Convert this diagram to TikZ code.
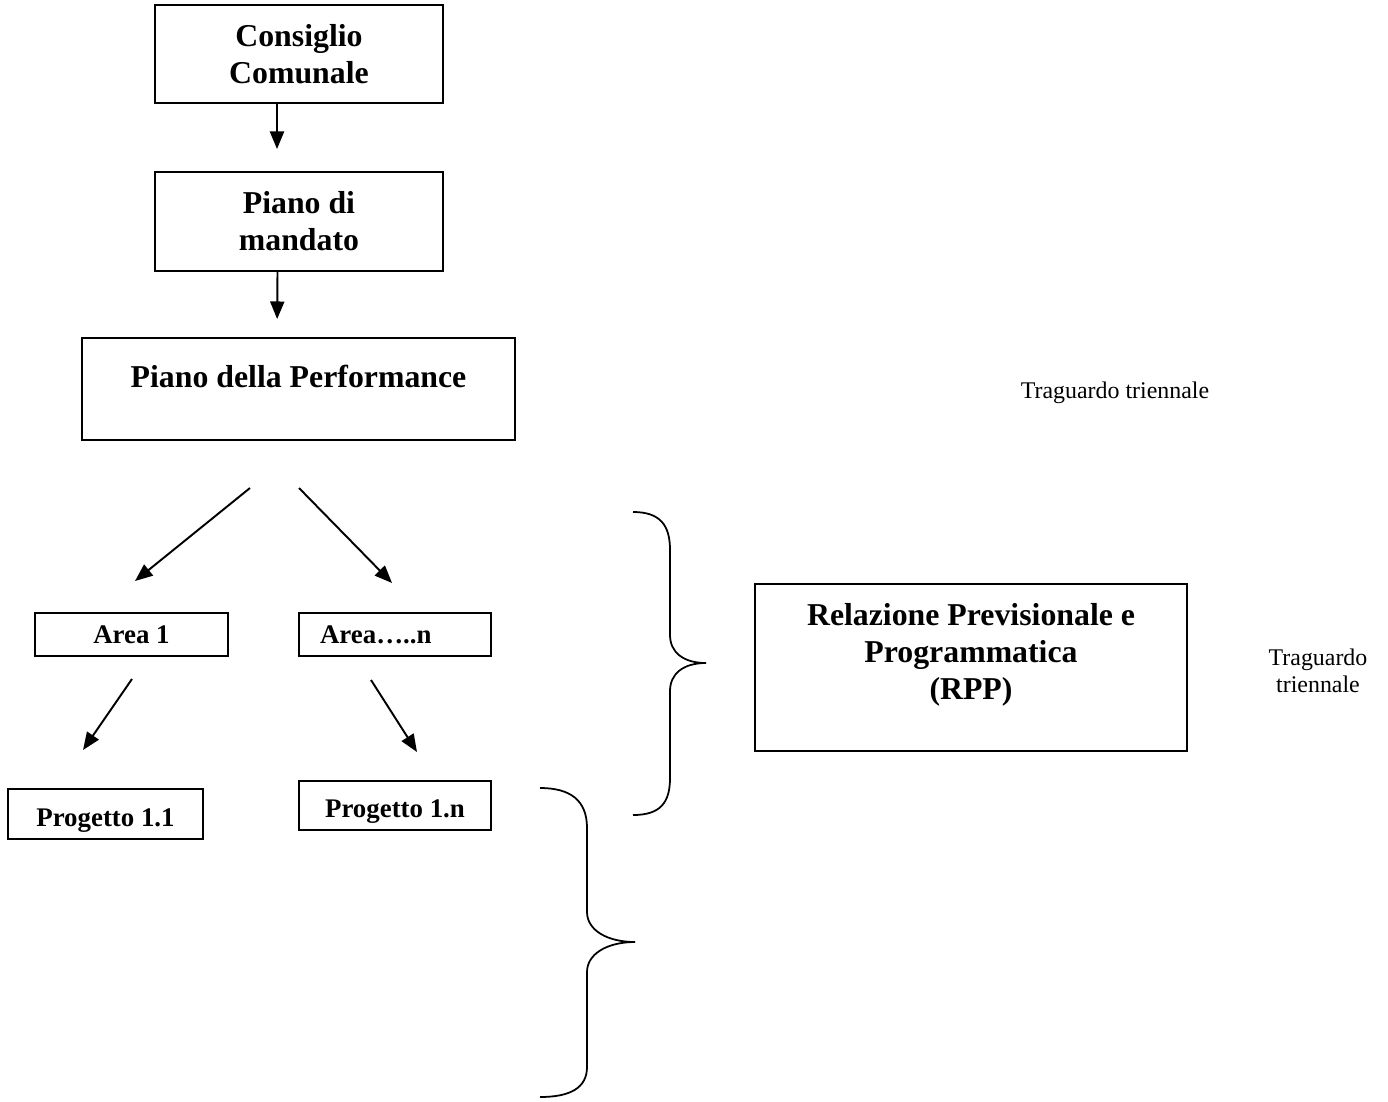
\documentclass[tikz,border=0pt]{standalone}
\usepackage{fontspec}
\setmainfont{Liberation Serif}
\usetikzlibrary{arrows.meta}

\begin{document}
\begin{tikzpicture}[x=0.02cm, y=-0.02cm,
  bigbox/.style={draw, line width=1.1pt, font=\fontsize{18.1}{21}\selectfont\bfseries, align=center, inner sep=0pt},
  smallbox/.style={draw, line width=1.1pt, font=\fontsize{15.3}{17.5}\selectfont\bfseries, inner sep=0pt},
  arr/.style={-{Triangle[length=10pt,width=8pt]}, line width=1.1pt},
  brace/.style={line width=1pt},
  note/.style={font=\fontsize{13.6}{15.3}\selectfont, align=center}]

\useasboundingbox (0,0) rectangle (1388,1101);

% Main chain
\node[bigbox, minimum width=5.76cm, minimum height=1.96cm] (council) at (299,54) {Consiglio\\Comunale};
\node[bigbox, minimum width=5.76cm, minimum height=1.98cm] (mandate) at (299,221.5) {Piano di\\mandato};
\node[bigbox, minimum width=8.66cm, text height=0.98cm, text depth=1.06cm] (perf) at (298.5,389) {Piano della Performance};

% Areas and projects
\node[smallbox, minimum width=3.86cm, minimum height=0.86cm] (area1) at (131.5,634.5) {Area 1};
\node[smallbox, minimum height=0.86cm, text width=3cm, inner xsep=0.42cm, align=left] (arean) at (395,634.5) {Area…..n};
\node[smallbox, minimum width=3.9cm, text height=0.74cm, text depth=0.26cm] (proj11) at (105.5,814) {Progetto 1.1};
\node[smallbox, minimum width=3.84cm, text height=0.72cm, text depth=0.26cm] (proj1n) at (395,805.5) {Progetto 1.n};

% RPP and notes
\node[bigbox, minimum width=8.64cm, minimum height=3.34cm] (rpp) at (971,667.5) {Relazione Previsionale e\\Programmatica\\(RPP)\\[-0.32cm]\strut};
\node[note] (goal1) at (1115,393) {Traguardo triennale};
\node[note] (goal2) at (1318,671) {Traguardo\\triennale};

% Arrows
\draw[arr, shorten >=0.44cm] ([xshift=-0.44cm]council.south) -- ([xshift=-0.44cm]mandate.north);
\draw[arr, shorten >=0.36cm] ([xshift=-0.43cm]mandate.south) -- ([xshift=-0.43cm]perf.north);

\coordinate (perfL) at (250,488);
\coordinate (perfR) at (299,488);
\coordinate (area1top) at (135,581);
\coordinate (areantop) at (392,583);
\coordinate (area1bot) at (132,679);
\coordinate (areanbot) at (371,680);
\coordinate (proj11top) at (83,750);
\coordinate (proj1ntop) at (417,752);

\draw[arr] (perfL) -- (area1top);
\draw[arr] (perfR) -- (areantop);
\draw[arr] (area1bot) -- (proj11top);
\draw[arr] (areanbot) -- (proj1ntop);

% Braces
\draw[brace] (633,512) .. controls (660,512) and (670,525) .. (670,550) -- (670,635)
  .. controls (670,652) and (683,663) .. (706,663)
  .. controls (683,663) and (670,674) .. (670,691) -- (670,778)
  .. controls (670,803) and (660,815) .. (633,815);
\draw[brace] (540,788) .. controls (570,788) and (587,800) .. (587,828) -- (587,912)
  .. controls (587,930) and (607,942) .. (635,942)
  .. controls (607,942) and (587,954) .. (587,972) -- (587,1067)
  .. controls (587,1088) and (570,1097) .. (540,1097);

\end{tikzpicture}
\end{document}
